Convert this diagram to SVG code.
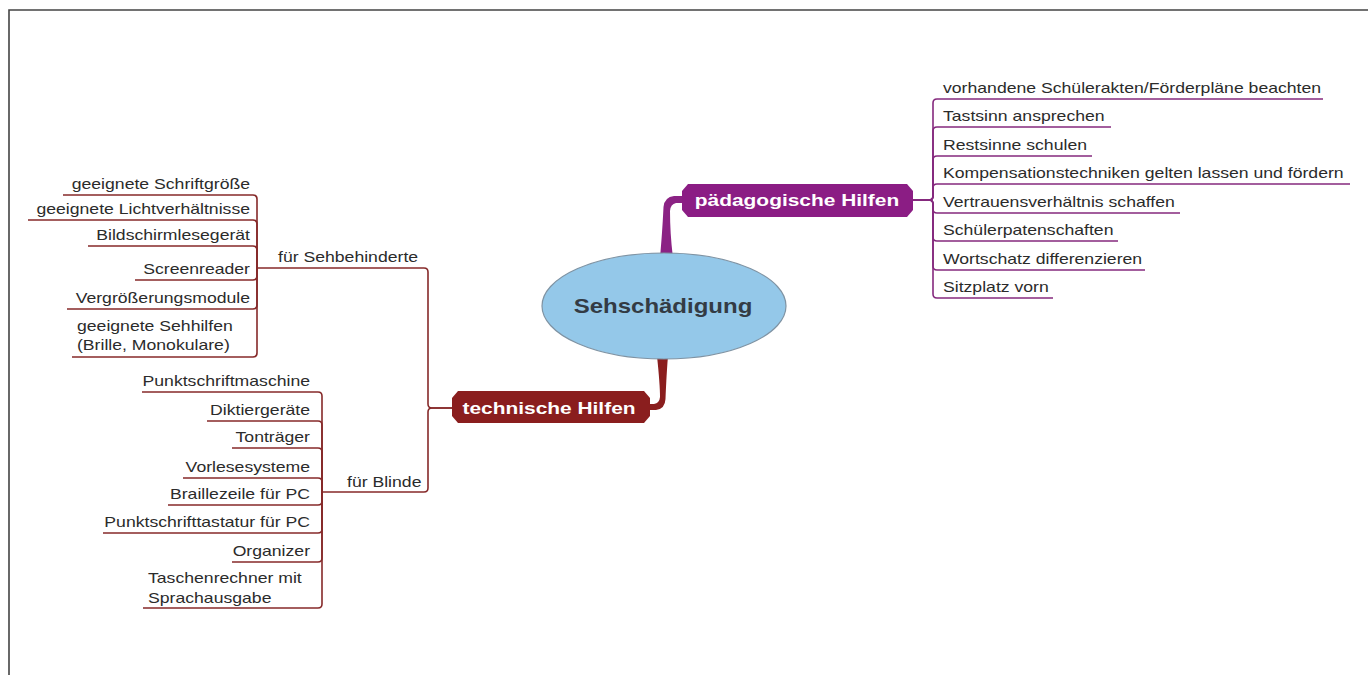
<svg xmlns="http://www.w3.org/2000/svg" width="1368" height="675" viewBox="0 0 1368 675">
  <style>
    .t { font-family: "Liberation Sans", Arial, sans-serif; font-size: 14px; fill: #2b2b2b; }
    .e { text-anchor: end; }
    .nb { font-family: "Liberation Sans", Arial, sans-serif; font-size: 17px; font-weight: bold; fill: #ffffff; text-anchor: middle; }
    .c { font-family: "Liberation Sans", Arial, sans-serif; font-size: 20px; font-weight: bold; fill: #333b44; text-anchor: middle; }
    .p { fill: none; stroke: #852a7e; stroke-width: 1.6; }
    .r { fill: none; stroke: #862a2a; stroke-width: 1.6; }
  </style>

  <rect width="1368" height="675" fill="#ffffff"/>
  <!-- frame -->
  <path d="M 9 675 V 10 H 1368" fill="none" stroke="#444" stroke-width="1.6"/>

  <!-- connectors -->
  <g id="connectors">
    <!-- trunks from the central topic -->
    <path d="M 660 258 C 662 236 663 218 663.5 207 Q 664.5 197 674 196 L 684 196 L 684 203 L 676 203 Q 670.5 204 670 211 C 670 226 671 242 673 258 Z" fill="#8b2284"/>
    <path d="M 657 356 C 659 375 660 389 660 397 Q 659.5 403 654 404 L 648 404 L 648 410 L 656 410 Q 665 409 665.5 399 C 666 389 666.5 374 668 356 Z" fill="#8a1e1e"/>

    <!-- pädagogische Hilfen branches -->
    <path class="p" d="M 913 200 H 929 Q 933 200 933 196 V 103 Q 933 99 937 99 H 1323"/>
    <path class="p" d="M 913 200 H 929 Q 933 200 933 196 V 131 Q 933 127 937 127 H 1111"/>
    <path class="p" d="M 913 200 H 929 Q 933 200 933 196 V 160 Q 933 156 937 156 H 1092"/>
    <path class="p" d="M 913 200 H 929 Q 933 200 933 196 V 188 Q 933 184 937 184 H 1350"/>
    <path class="p" d="M 913 200 H 929 Q 933 200 933 204 V 209 Q 933 213 937 213 H 1180"/>
    <path class="p" d="M 913 200 H 929 Q 933 200 933 204 V 237 Q 933 241 937 241 H 1118"/>
    <path class="p" d="M 913 200 H 929 Q 933 200 933 204 V 266 Q 933 270 937 270 H 1145"/>
    <path class="p" d="M 913 200 H 929 Q 933 200 933 204 V 294 Q 933 298 937 298 H 1053"/>

    <!-- technische Hilfen branches -->
    <path class="r" d="M 452 408 H 432 Q 428 408 428 404 V 272 Q 428 268 424 268 H 257"/>
    <path class="r" d="M 452 408 H 432 Q 428 408 428 412 V 488 Q 428 492 424 492 H 322"/>

    <!-- für Sehbehinderte branches -->
    <path class="r" d="M 257 268 V 199 Q 257 195 253 195 H 63"/>
    <path class="r" d="M 257 268 V 224 Q 257 220 253 220 H 28"/>
    <path class="r" d="M 257 268 V 250 Q 257 246 253 246 H 88"/>
    <path class="r" d="M 257 268 V 276 Q 257 280 253 280 H 135"/>
    <path class="r" d="M 257 268 V 305 Q 257 309 253 309 H 67"/>
    <path class="r" d="M 257 268 V 353 Q 257 357 253 357 H 72"/>

    <!-- für Blinde branches -->
    <path class="r" d="M 322 492 V 396 Q 322 392 318 392 H 142"/>
    <path class="r" d="M 322 492 V 425 Q 322 421 318 421 H 207"/>
    <path class="r" d="M 322 492 V 452 Q 322 448 318 448 H 232"/>
    <path class="r" d="M 322 492 V 482 Q 322 478 318 478 H 183"/>
    <path class="r" d="M 322 492 V 501 Q 322 505 318 505 H 168"/>
    <path class="r" d="M 322 492 V 529 Q 322 533 318 533 H 103"/>
    <path class="r" d="M 322 492 V 558 Q 322 562 318 562 H 232"/>
    <path class="r" d="M 322 492 V 604 Q 322 608 318 608 H 143"/>
  </g>

  <!-- central topic -->
  <g id="central">
    <ellipse cx="664" cy="306" rx="122" ry="53" fill="#94c8e9" stroke="#7f93a3" stroke-width="1.2"/>
    <text class="c" transform="translate(663,313) scale(1.2,1)">Sehschädigung</text>
  </g>

  <!-- main topics -->
  <g id="paedagogische-hilfen">
    <path d="M 688 184 H 907 L 913 191 V 210 L 907 217 H 688 L 682 210 V 191 Z" fill="#8b1d84"/>
    <text class="nb" transform="translate(797,206) scale(1.23,1)">pädagogische Hilfen</text>
  </g>
  <g id="technische-hilfen">
    <path d="M 458 391 H 644 L 650 398 V 416 L 644 423 H 458 L 452 416 V 398 Z" fill="#8a1e1e"/>
    <text class="nb" transform="translate(549,414) scale(1.23,1)">technische Hilfen</text>
  </g>

  <!-- pädagogische Hilfen subtopics -->
  <g id="p1"><text class="t" transform="translate(943,93) scale(1.26,1)">vorhandene Schülerakten/Förderpläne beachten</text></g>
  <g id="p2"><text class="t" transform="translate(943,121) scale(1.26,1)">Tastsinn ansprechen</text></g>
  <g id="p3"><text class="t" transform="translate(943,150) scale(1.26,1)">Restsinne schulen</text></g>
  <g id="p4"><text class="t" transform="translate(943,178) scale(1.26,1)">Kompensationstechniken gelten lassen und fördern</text></g>
  <g id="p5"><text class="t" transform="translate(943,207) scale(1.26,1)">Vertrauensverhältnis schaffen</text></g>
  <g id="p6"><text class="t" transform="translate(943,235) scale(1.26,1)">Schülerpatenschaften</text></g>
  <g id="p7"><text class="t" transform="translate(943,264) scale(1.26,1)">Wortschatz differenzieren</text></g>
  <g id="p8"><text class="t" transform="translate(943,292) scale(1.26,1)">Sitzplatz vorn</text></g>

  <!-- technische Hilfen subtopics -->
  <g id="sehbehinderte"><text class="t" transform="translate(278,262) scale(1.26,1)">für Sehbehinderte</text></g>
  <g id="blinde"><text class="t" transform="translate(347,487) scale(1.26,1)">für Blinde</text></g>

  <!-- für Sehbehinderte items -->
  <g id="s1"><text class="t e" transform="translate(250,189) scale(1.26,1)">geeignete Schriftgröße</text></g>
  <g id="s2"><text class="t e" transform="translate(250,214) scale(1.26,1)">geeignete Lichtverhältnisse</text></g>
  <g id="s3"><text class="t e" transform="translate(250,240) scale(1.26,1)">Bildschirmlesegerät</text></g>
  <g id="s4"><text class="t e" transform="translate(250,274) scale(1.26,1)">Screenreader</text></g>
  <g id="s5"><text class="t e" transform="translate(250,303) scale(1.26,1)">Vergrößerungsmodule</text></g>
  <g id="s6">
    <text class="t" transform="translate(77,331) scale(1.26,1)">geeignete Sehhilfen</text>
    <text class="t" transform="translate(77,350) scale(1.26,1)">(Brille, Monokulare)</text>
  </g>

  <!-- für Blinde items -->
  <g id="b1"><text class="t e" transform="translate(310,386) scale(1.26,1)">Punktschriftmaschine</text></g>
  <g id="b2"><text class="t e" transform="translate(310,415) scale(1.26,1)">Diktiergeräte</text></g>
  <g id="b3"><text class="t e" transform="translate(310,442) scale(1.26,1)">Tonträger</text></g>
  <g id="b4"><text class="t e" transform="translate(310,472) scale(1.26,1)">Vorlesesysteme</text></g>
  <g id="b5"><text class="t e" transform="translate(310,499) scale(1.26,1)">Braillezeile für PC</text></g>
  <g id="b6"><text class="t e" transform="translate(310,527) scale(1.26,1)">Punktschrifttastatur für PC</text></g>
  <g id="b7"><text class="t e" transform="translate(310,556) scale(1.26,1)">Organizer</text></g>
  <g id="b8">
    <text class="t" transform="translate(148,583) scale(1.26,1)">Taschenrechner mit</text>
    <text class="t" transform="translate(148,603) scale(1.26,1)">Sprachausgabe</text>
  </g>
</svg>
